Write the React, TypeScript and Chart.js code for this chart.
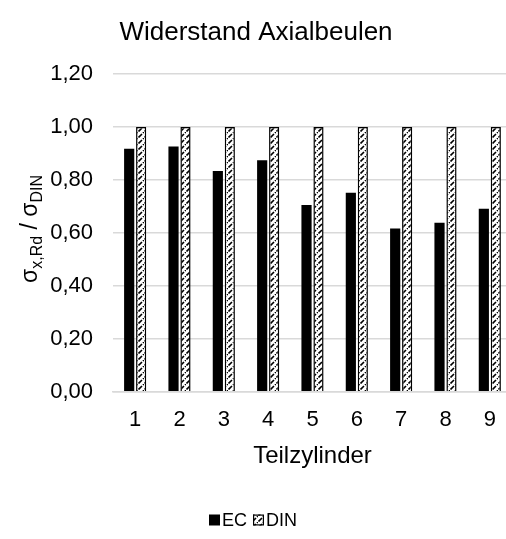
import React, { useEffect, useRef } from "react";
import { Chart, registerables } from "chart.js";

Chart.register(...registerables);

const categories = ["1", "2", "3", "4", "5", "6", "7", "8", "9"];
const ecValues = [0.918, 0.927, 0.834, 0.875, 0.706, 0.752, 0.617, 0.639, 0.691];
const dinValues = [1, 1, 1, 1, 1, 1, 1, 1, 1];
const seriesNames = ["EC", "DIN"];
const chartTitle = "Widerstand Axialbeulen";
const xTitle = "Teilzylinder";

const FONT = "'Liberation Sans', Arial, sans-serif";

function makePattern(): CanvasPattern | string {
  const c = document.createElement("canvas");
  c.width = 6;
  c.height = 6;
  const g = c.getContext("2d");
  if (!g) return "#888";
  g.fillStyle = "#ffffff";
  g.fillRect(0, 0, 6, 6);
  g.strokeStyle = "#000000";
  g.lineWidth = 1.6;
  g.beginPath();
  g.moveTo(0.5, 5.5);
  g.lineTo(4, 2);
  g.moveTo(5, 1);
  g.lineTo(7, -1);
  g.moveTo(-1, 7);
  g.lineTo(0, 6);
  g.stroke();
  const p = g.createPattern(c, "repeat");
  return p || "#888";
}

const yTitlePlugin = {
  id: "yTitleSub",
  afterDraw(chart: any) {
    const ctx = chart.ctx as CanvasRenderingContext2D;
    const area = chart.chartArea;
    const cy = (area.top + area.bottom) / 2 - 4;
    const parts: [string, number, number][] = [
      ["σ", 23, 0],
      ["x,Rd", 16, 5],
      [" / ", 23, 0],
      ["σ", 23, 0],
      ["DIN", 16, 5],
    ];
    ctx.save();
    let total = 0;
    for (const [t, s] of parts) {
      ctx.font = `${s}px ${FONT}`;
      total += ctx.measureText(t).width;
    }
    ctx.translate(37, cy);
    ctx.rotate(-Math.PI / 2);
    ctx.fillStyle = "#000";
    ctx.textBaseline = "alphabetic";
    let x = -total / 2;
    for (const [t, s, dy] of parts) {
      ctx.font = `${s}px ${FONT}`;
      ctx.fillText(t, x, dy);
      x += ctx.measureText(t).width;
    }
    ctx.restore();
  },
};

const legendPlugin = {
  id: "compactLegend",
  afterDraw(chart: any) {
    const ctx = chart.ctx as CanvasRenderingContext2D;
    const datasets = chart.data.datasets;
    const box = 11;
    const gapBoxText = 2;
    const gapItems = 6;
    const cy = 520;
    ctx.save();
    ctx.font = `18px ${FONT}`;
    let total = 0;
    datasets.forEach((d: any, i: number) => {
      total += box + gapBoxText + ctx.measureText(d.label).width;
      if (i < datasets.length - 1) total += gapItems;
    });
    let x = 253 - total / 2;
    ctx.textBaseline = "middle";
    ctx.textAlign = "left";
    datasets.forEach((d: any) => {
      ctx.fillStyle = d.backgroundColor;
      ctx.fillRect(x, cy - box / 2, box, box);
      if (d.borderWidth) {
        ctx.strokeStyle = d.borderColor;
        ctx.lineWidth = 1.2;
        ctx.strokeRect(x + 0.6, cy - box / 2 + 0.6, box - 1.2, box - 1.2);
      }
      x += box + gapBoxText;
      ctx.fillStyle = "#000";
      ctx.fillText(d.label, x, cy + 1);
      x += ctx.measureText(d.label).width + gapItems;
    });
    ctx.restore();
  },
};

export default function App() {
  const ref = useRef<HTMLCanvasElement | null>(null);
  useEffect(() => {
    if (!ref.current) return;
    const pattern = makePattern();
    const chart = new Chart(ref.current, {
      type: "bar",
      data: {
        labels: categories,
        datasets: [
          {
            label: seriesNames[0],
            data: ecValues,
            backgroundColor: "#000000",
            borderColor: "#000000",
            borderWidth: 0,
            categoryPercentage: 0.54,
            barPercentage: 0.85,
          },
          {
            label: seriesNames[1],
            data: dinValues,
            backgroundColor: pattern as any,
            borderColor: "#000000",
            borderWidth: 1.5,
            categoryPercentage: 0.54,
            barPercentage: 0.85,
          },
        ],
      },
      options: {
        animation: false,
        responsive: false,
        layout: { padding: { left: 0, right: 0, top: 0, bottom: 34 } },
        plugins: {
          title: {
            display: true,
            text: chartTitle,
            color: "#000",
            font: { family: FONT, size: 26, weight: "normal" },
            padding: { top: 17, bottom: 26 },
          },
          legend: { display: false },
          tooltip: { enabled: false },
        },
        scales: {
          x: {
            grid: { display: false, drawTicks: false },
            border: { display: true, color: "#d9d9d9", width: 1.5 },
            ticks: { color: "#000", font: { family: FONT, size: 22 }, padding: 15 },
            title: {
              display: true,
              text: xTitle,
              color: "#000",
              font: { family: FONT, size: 24 },
              padding: { top: 6, bottom: 34 },
            },
            afterFit: (scale: any) => {
              scale.height = 113.3;
            },
          },
          y: {
            min: 0,
            max: 1.2,
            ticks: {
              stepSize: 0.2,
              color: "#000",
              font: { family: FONT, size: 22 },
              padding: 20,
              callback: (v: any) => Number(v).toFixed(2).replace(".", ","),
            },
            grid: { color: "#d9d9d9", lineWidth: 1.5, drawTicks: false },
            border: { display: false },
            afterFit: (scale: any) => {
              scale.width = 113;
            },
          },
        },
      },
      plugins: [yTitlePlugin, legendPlugin],
    });
    return () => chart.destroy();
  }, []);
  return (
    <div
      style={{
        position: "absolute",
        left: 0,
        top: 0,
        width: 506,
        height: 539,
        overflow: "hidden",
        background: "#fff",
      }}
    >
      <canvas ref={ref} width={512} height={539} style={{ display: "block" }} />
    </div>
  );
}
